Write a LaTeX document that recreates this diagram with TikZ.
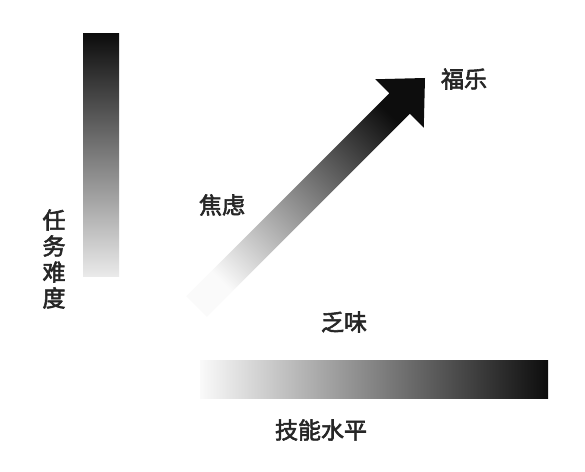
\documentclass[tikz,border=0pt]{standalone}
\usepackage{fontspec}
\newfontfamily\cjk[FakeBold=2.5]{Noto Sans CJK SC}
\begin{document}
\begin{tikzpicture}[x=1pt,y=1pt,
  lbl/.style={font=\cjk\fontsize{23}{26}\selectfont, inner sep=0pt, text=black!85}]
\useasboundingbox[fill=white] (0,0) rectangle (585,471);
% task difficulty bar
\shade[top color=black!95, bottom color=black!8] (83,194) rectangle (119,437);
% skill level bar
\shade[left color=black!2, middle color=black!50, right color=black!95] (200,73) rectangle (548,111);
% flow arrow
\coordinate (tailU) at (186.25,174.75);
\coordinate (joinU) at (389.25,377.75);
\coordinate (headL) at (375.25,391.75);
\coordinate (tip)   at (425,393);
\coordinate (headB) at (423.75,343.25);
\coordinate (joinL) at (409.75,357.25);
\coordinate (tailL) at (206.75,154.25);
\shade[top color=black!95, middle color=black!55, bottom color=black!2, shading angle=-45]
  (tailU) -- (joinU) -- (headL) -- (tip) -- (headB) -- (joinL) -- (tailL) -- cycle;
% labels
\node[lbl] (flow) at (464,392) {福乐};
\node[lbl] (anx) at (222,266) {焦虑};
\node[lbl] (bore) at (344,149) {乏味};
\node[lbl] (skill) at (321,41) {技能水平};
\node[lbl, align=center] (task) at (54,212) {任\\务\\难\\度};
\end{tikzpicture}
\end{document}
